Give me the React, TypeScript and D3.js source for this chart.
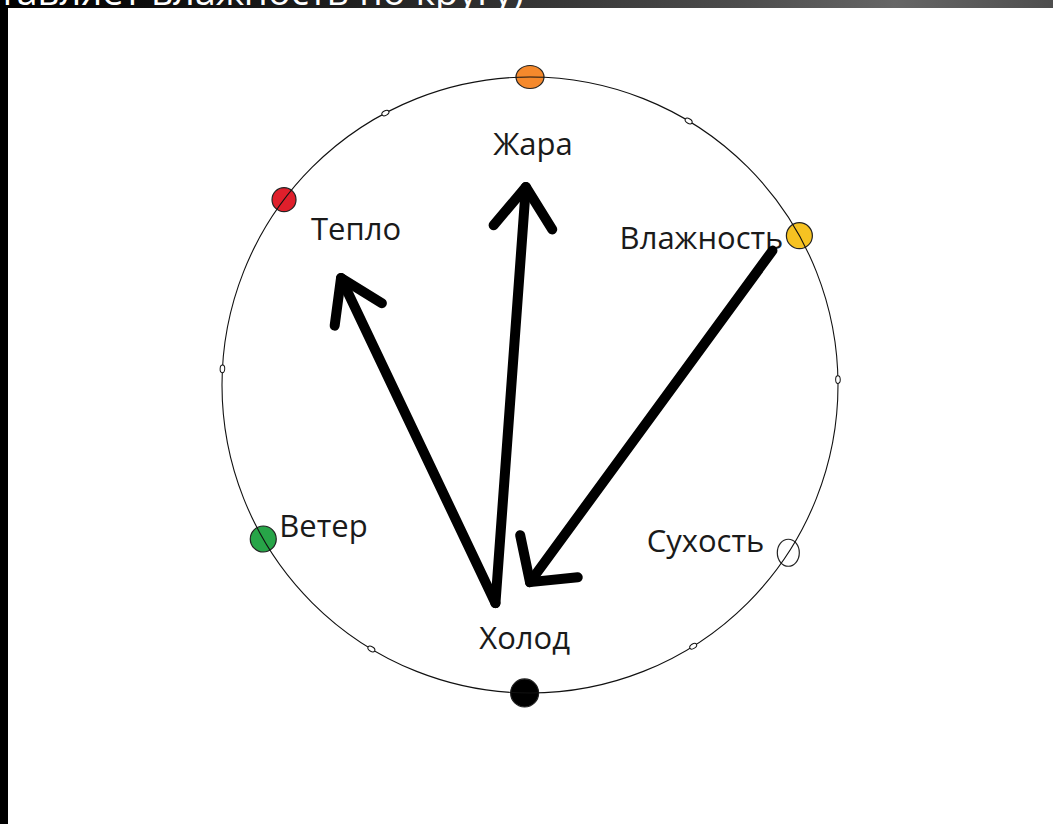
import * as d3 from 'd3';
import React from 'react';

// categories placed round the circle, angle in degrees clockwise from top
const categories = ["Жара", "Влажность", "Сухость", "Холод", "Ветер", "Тепло"];
const categoryAngles = [0, 61, 123, 181, 240, 307];

// small unlabelled marks on the rim
const tickAngles = [31, 89, 148, 211, 273, 332];

// arrows: polar start / end (angle deg, radius as share of the circle)
const arrowFrom = ["Холод", "Холод", "Влажность"];
const arrowTo = ["Жара", "Тепло", "Холод"];
const arrowStartAngle = [189, 189, 61];
const arrowStartRadius = [0.717, 0.717, 0.9];
const arrowEndAngle = [358.8, 299.5, 180];
const arrowEndRadius = [0.643, 0.705, 0.64];

const titleText = "Ветер переставляет влажность по кругу)";

const W = 1053, H = 824;
const CX = 530, CY = 385, R = 308;

const FILL = {
  "Жара": "#f5892c",
  "Влажность": "#f6c222",
  "Сухость": "#ffffff",
  "Холод": "#000000",
  "Ветер": "#27a548",
  "Тепло": "#df1f2b",
};
const SIZE = {
  "Жара": [14, 11.5],
  "Влажность": [13, 13],
  "Сухость": [11, 13.5],
  "Холод": [14, 14],
  "Ветер": [13, 13],
  "Тепло": [12, 12],
};
// label placement relative to its marker: dx, dy, anchor
const LABEL = {
  "Жара": [3, 78, "middle"],
  "Влажность": [-16, 13, "end"],
  "Сухость": [-24, -1, "end"],
  "Холод": [0, -44, "middle"],
  "Ветер": [16, -2, "start"],
  "Тепло": [72, 40, "middle"],
};
const HEAD = [[36, 50], [33, 48], [48, 48]]; // half angle, arm length

const angle = d3.scaleLinear().domain([0, 360]).range([0, 2 * Math.PI]);
const radius = d3.scaleLinear().domain([0, 1]).range([0, R]);

function polar(a, r) {
  const t = angle(a);
  return [CX + radius(r) * Math.sin(t), CY - radius(r) * Math.cos(t)];
}

const line = d3.line();

export default function App() {
  const arrows = arrowFrom.map((f, i) => {
    const s = polar(arrowStartAngle[i], arrowStartRadius[i]);
    const e = polar(arrowEndAngle[i], arrowEndRadius[i]);
    const back = Math.atan2(s[1] - e[1], s[0] - e[0]);
    const [ha, hl] = HEAD[i];
    const h = (ha * Math.PI) / 180;
    const a1 = [e[0] + hl * Math.cos(back + h), e[1] + hl * Math.sin(back + h)];
    const a2 = [e[0] + hl * Math.cos(back - h), e[1] + hl * Math.sin(back - h)];
    return { key: f + arrowTo[i], shaft: line([s, e]), head: line([a1, e, a2]) };
  });

  return (
    <svg width={W} height={H} style={{ position: 'absolute', left: 0, top: 0, background: '#fff' }}>
      <defs>
        <linearGradient id="strip" x1="0" x2="1" y1="0" y2="0">
          <stop offset="0" stopColor="#000" />
          <stop offset="0.3" stopColor="#1c1c1c" />
          <stop offset="0.7" stopColor="#4c4c4c" />
          <stop offset="0.85" stopColor="#666" />
          <stop offset="1" stopColor="#4e4e4e" />
        </linearGradient>
        <clipPath id="stripClip">
          <rect x={0} y={0} width={W} height={8} />
        </clipPath>
      </defs>
      <rect x={0} y={0} width={W} height={H} fill="#fff" />
      <rect x={0} y={0} width={8} height={H} fill="#000" />
      <rect x={0} y={0} width={W} height={8} fill="url(#strip)" />
      <text x={524} y={5} textAnchor="end" fill="#fff" clipPath="url(#stripClip)"
        style={{ font: '38px "Open Sans"' }}>{titleText}</text>

      {categories.map((c, i) => {
        const [x, y] = polar(categoryAngles[i], 1);
        return <ellipse key={c} cx={x} cy={y} rx={SIZE[c][0]} ry={SIZE[c][1]}
          fill={FILL[c]} stroke="#222" strokeWidth={1.2} />;
      })}

      <circle cx={CX} cy={CY} r={R} fill="none" stroke="#111" strokeWidth={1.1} />

      {tickAngles.map(a => {
        const [x, y] = polar(a, 1);
        return <ellipse key={a} cx={x} cy={y} rx={2.3} ry={3.8} fill="#fff" stroke="#111"
          strokeWidth={1} transform={`rotate(${a + 90} ${x} ${y})`} />;
      })}

      {categories.map((c, i) => {
        const [x, y] = polar(categoryAngles[i], 1);
        const [dx, dy, anchor] = LABEL[c];
        return <text key={c} x={x + dx} y={y + dy} textAnchor={anchor} fill="#1a1a1a"
          style={{ font: '31px "Open Sans"' }}>{c}</text>;
      })}

      {arrows.map(a => (
        <g key={a.key} fill="none" stroke="#000" strokeWidth={10} strokeLinecap="round" strokeLinejoin="round">
          <path d={a.shaft} />
          <path d={a.head} />
        </g>
      ))}
    </svg>
  );
}
